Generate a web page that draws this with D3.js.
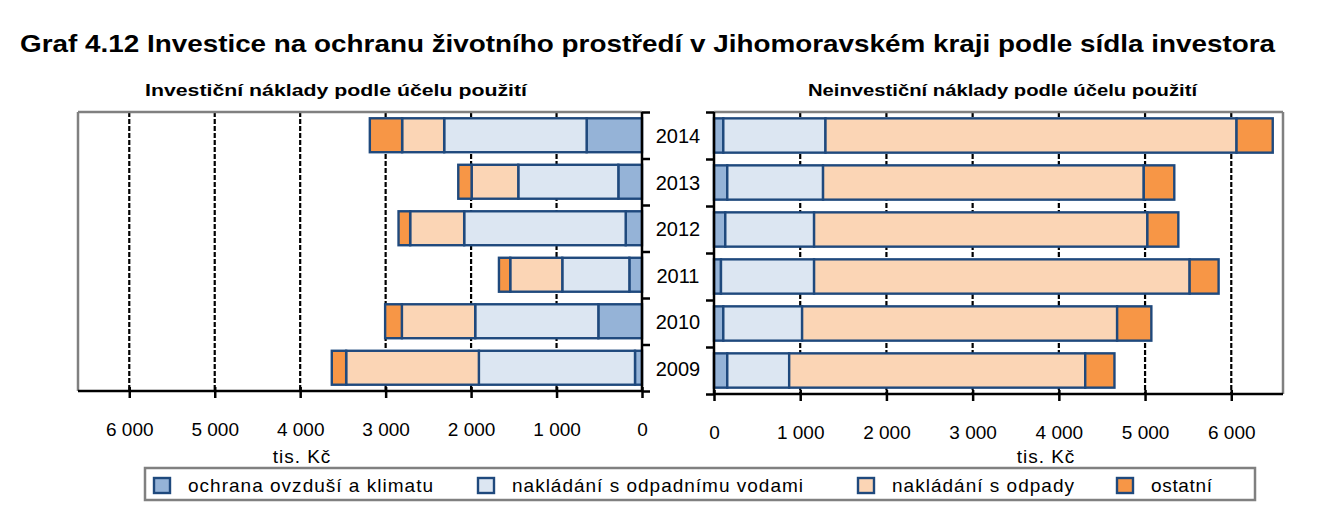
<!DOCTYPE html>
<html>
<head>
<meta charset="utf-8">
<script src="https://cdn.jsdelivr.net/npm/d3@7"></script>
<style>
  body { margin: 0; background: #fff; }
  svg { font-family: "Liberation Sans", Arial, sans-serif; }
</style>
</head>
<body>
<svg id="chart" width="1335" height="531"></svg>
<script>
// data (tis. Kč)
var years = ["2014", "2013", "2012", "2011", "2010", "2009"];
var keys = ["ochrana", "vody", "odpady", "ostatni"];
var keyLabels = ["ochrana ovzduší a klimatu", "nakládání s odpadnímu vodami", "nakládání s odpady", "ostatní"];

// investiční náklady
var invOchrana = [648, 277, 191, 148, 511, 82];
var invVody = [1667, 1171, 1890, 785, 1441, 1827];
var invOdpady = [492, 546, 632, 609, 858, 1553];
var invOstatni = [378, 156, 136, 132, 196, 168];

// neinvestiční náklady
var neiOchrana = [108, 154, 131, 81, 108, 154];
var neiVody = [1185, 1111, 1030, 1080, 914, 718];
var neiOdpady = [4768, 3720, 3866, 4356, 3654, 3434];
var neiOstatni = [420, 354, 359, 336, 397, 339];

var xTicks = [0, 1000, 2000, 3000, 4000, 5000, 6000];

var colors = { ochrana: "#95B3D7", vody: "#DCE6F2", odpady: "#FBD5B5", ostatni: "#F79646" };
var edge = "#1F497D";

var svg = d3.select("#chart");
var fmt = d3.formatLocale({ decimal: ",", thousands: "\u00a0", grouping: [3], currency: ["", " Kč"] }).format(",d");

function rows(a, b, c, d) {
    return years.map(function (y, i) {
        return { year: y, ochrana: a[i], vody: b[i], odpady: c[i], ostatni: d[i] };
    });
}

var stack = d3.stack().keys(keys);

svg.append("text")
    .attr("x", 20).attr("y", 52)
    .attr("font-size", 24).attr("font-weight", "bold")
    .attr("textLength", 1255).attr("lengthAdjust", "spacingAndGlyphs")
    .text("Graf 4.12 Investice na ochranu životního prostředí v Jihomoravském kraji podle sídla investora");

function panel(opts) {
    var g = svg.append("g");
    var x = d3.scaleLinear().domain([0, 6600]).range(opts.xRange);
    var y = d3.scaleBand().domain(years).range(opts.yRange).paddingInner(0.27).paddingOuter(0.135);
    var yb = d3.scaleLinear().domain([0, years.length]).range(opts.yRange);
    var x0 = x(0), xEnd = x(6600);
    var top = opts.yRange[0], bottom = opts.yRange[1];

    // grid
    g.selectAll(".grid").data(xTicks.slice(1)).enter().append("line")
        .attr("x1", function (d) { return x(d); }).attr("x2", function (d) { return x(d); })
        .attr("y1", top).attr("y2", bottom)
        .attr("stroke", "#000").attr("stroke-width", 2.2).attr("stroke-dasharray", "5,2");

    // frame
    g.append("line").attr("x1", x0).attr("x2", xEnd).attr("y1", top).attr("y2", top)
        .attr("stroke", "#808080").attr("stroke-width", 2.5);
    g.append("line").attr("x1", xEnd).attr("x2", xEnd).attr("y1", top).attr("y2", bottom)
        .attr("stroke", "#808080").attr("stroke-width", 2.5);

    // bars
    var series = stack(opts.data);
    g.selectAll(".s").data(series).enter().append("g")
        .attr("fill", function (d) { return colors[d.key]; })
        .selectAll("rect").data(function (d) { return d; }).enter().append("rect")
        .attr("x", function (d) { return Math.min(x(d[0]), x(d[1])); })
        .attr("width", function (d) { return Math.abs(x(d[1]) - x(d[0])); })
        .attr("y", function (d) { return y(d.data.year); })
        .attr("height", y.bandwidth())
        .attr("stroke", edge).attr("stroke-width", 2.4);

    // x axis
    var xa = g.append("g").attr("transform", "translate(0," + bottom + ")")
        .call(d3.axisBottom(x).tickValues(xTicks).tickFormat(fmt).tickSize(7).tickPadding(0));
    xa.select(".domain").attr("stroke", "#000").attr("stroke-width", 2.5)
        .attr("d", "M" + x0 + ",0H" + xEnd);
    xa.selectAll(".tick line").attr("y1", -4).attr("y2", 7).attr("stroke-width", 2.5);
    xa.selectAll(".tick text").attr("y", 45).attr("dy", 0)
        .attr("font-size", 19).attr("font-family", "Liberation Sans, Arial, sans-serif").attr("fill", "#000");

    // y axis (category boundaries)
    var ya = g.append("g").attr("transform", "translate(" + x0 + ",0)")
        .call(opts.side(yb).ticks(years.length).tickFormat("").tickSize(8));
    ya.select(".domain").attr("stroke", "#000").attr("stroke-width", 2.5)
        .attr("d", "M0," + top + "V" + bottom);
    ya.selectAll(".tick line").attr("stroke-width", 2.5);

    g.append("text").attr("x", opts.unitX).attr("y", 463)
        .attr("text-anchor", "middle").attr("font-size", 19).attr("letter-spacing", 1)
        .text("tis. Kč");

    g.append("text").attr("x", opts.titleX).attr("y", 96)
        .attr("font-size", 17).attr("font-weight", "bold")
        .attr("textLength", opts.titleW).attr("lengthAdjust", "spacingAndGlyphs")
        .text(opts.title);

    return y;
}

var yL = panel({
    data: rows(invOchrana, invVody, invOdpady, invOstatni),
    xRange: [642, 78], yRange: [112, 391], side: d3.axisRight,
    unitX: 302, titleX: 145, titleW: 382,
    title: "Investiční náklady podle účelu použití"
});

panel({
    data: rows(neiOchrana, neiVody, neiOdpady, neiOstatni),
    xRange: [714, 1283], yRange: [112, 394], side: d3.axisLeft,
    unitX: 1046, titleX: 808, titleW: 389,
    title: "Neinvestiční náklady podle účelu použití"
});

// year labels
svg.selectAll(".yr").data(years).enter().append("text")
    .attr("x", 678)
    .attr("y", function (d) { return yL(d) + yL.bandwidth() / 2 + 8; })
    .attr("text-anchor", "middle").attr("font-size", 20)
    .text(function (d) { return d; });

// legend
var legendX = [153, 477, 857, 1116];
var legendW = [245, 291, 182, 61];
svg.append("rect").attr("x", 145).attr("y", 468).attr("width", 1110).attr("height", 32)
    .attr("fill", "#fff").attr("stroke", "#808080").attr("stroke-width", 2.5);
var li = svg.selectAll(".lg").data(keys).enter().append("g")
    .attr("transform", function (d, i) { return "translate(" + legendX[i] + ",477)"; });
li.append("rect").attr("x", 1).attr("y", 1).attr("width", 16).attr("height", 15)
    .attr("fill", function (d) { return colors[d]; })
    .attr("stroke", edge).attr("stroke-width", 2.4);
li.append("text").attr("x", 35).attr("y", 15).attr("font-size", 19)
    .attr("textLength", function (d, i) { return legendW[i]; })
    .attr("lengthAdjust", "spacing")
    .text(function (d, i) { return keyLabels[i]; });
</script>
</body>
</html>
